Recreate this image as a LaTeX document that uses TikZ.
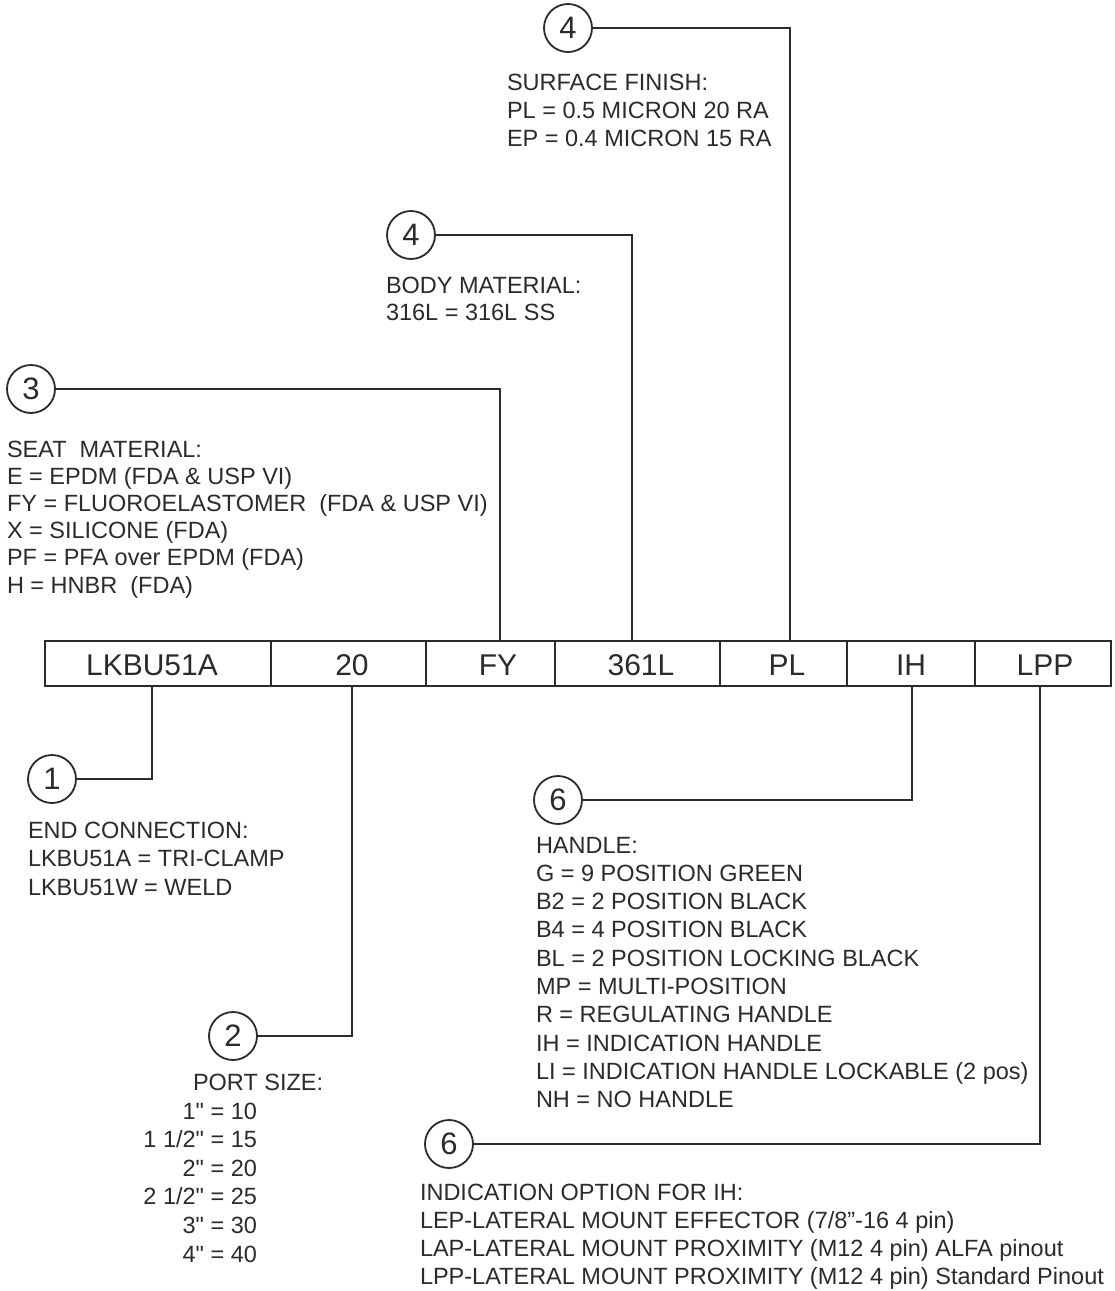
\documentclass[tikz,border=0pt]{standalone}
\usepackage{fontspec}
\setmainfont{Liberation Sans}[Ligatures=TeXOff]
\definecolor{ink}{HTML}{2B2B2B}
\begin{document}
\begin{tikzpicture}[x=1pt,y=-1pt,
  txt/.style={font=\fontsize{23.5}{28}\selectfont, text=ink, inner sep=0pt, outer sep=0pt},
  num/.style={circle, draw=ink, line width=1.8pt, minimum size=48pt, inner sep=0pt, font=\fontsize{31}{31}\selectfont, text=ink},
  cell/.style={draw=ink, line width=1.4pt, minimum height=45pt, inner sep=0pt, outer sep=0pt, anchor=north west},
  lab/.style={font=\fontsize{30}{30}\selectfont, text=ink, anchor=base, inner sep=0pt},
  conn/.style={draw=ink, line width=1.3pt}]
\fill[white] (0,0) rectangle (1115,1291);
\useasboundingbox (0,0) rectangle (1115,1291);

% code box
\node[cell, minimum width=226pt] (b1) at (45,641) {};
\node[cell, minimum width=155pt] (b2) at (271,641) {};
\node[cell, minimum width=129pt] (b3) at (426,641) {};
\node[cell, minimum width=165pt] (b4) at (555,641) {};
\node[cell, minimum width=127pt] (b5) at (720,641) {};
\node[cell, minimum width=128pt] (b6) at (847,641) {};
\node[cell, minimum width=136pt] (b7) at (975,641) {};
\node[lab] (l1) at (152,675) {LKBU51A};
\node[lab] (l2) at (352,675) {20};
\node[lab] (l3) at (498,675) {FY};
\node[lab] (l4) at (641,675) {361L};
\node[lab] (l5) at (787,675) {PL};
\node[lab] (l6) at (911,675) {IH};
\node[lab] (l7) at (1045,675) {LPP};

% connector end points on the box
\coordinate (t3) at (500,641);
\coordinate (t4) at (632,641);
\coordinate (t5) at (790,641);
\coordinate (d1) at (152,686);
\coordinate (d2) at (352,686);
\coordinate (d6) at (912,686);
\coordinate (d7) at (1040,686);

% callout circles
\node[num] (c4a) at (568,28) {4};
\node[num] (c4b) at (411,235) {4};
\node[num] (c3) at (31,389) {3};
\node[num] (c1) at (52,779) {1};
\node[num] (c2) at (233,1036) {2};
\node[num] (c6a) at (558,800) {6};
\node[num] (c6b) at (449,1144) {6};

% connectors
\draw[conn] (c4a.east) -| (t5);
\draw[conn] (c4b.east) -| (t4);
\draw[conn] (c3.east) -| (t3);
\draw[conn] (c1.east) -| (d1);
\draw[conn] (c2.east) -| (d2);
\draw[conn] (c6a.east) -| (d6);
\draw[conn] (c6b.east) -| (d7);

% surface finish
\foreach \t [count=\i from 0] in {{SURFACE FINISH:},{PL = 0.5 MICRON 20 RA},{EP = 0.4 MICRON 15 RA}}
  \node[txt, anchor=base west] (sf\i) at (507,90+28*\i) {\t};

% body material
\foreach \t [count=\i from 0] in {{BODY MATERIAL:},{316L = 316L SS}}
  \node[txt, anchor=base west] (bm\i) at (386,293+27*\i) {\t};

% seat material
\foreach \t [count=\i from 0] in {{SEAT\ \ MATERIAL:},{E = EPDM (FDA \& USP VI)},{FY = FLUOROELASTOMER\ \ (FDA \& USP VI)},{X = SILICONE (FDA)},{PF = PFA over EPDM (FDA)},{H = HNBR\ \ (FDA)}}
  \node[txt, anchor=base west] (sm\i) at (7,457+27.2*\i) {\t};

% end connection
\foreach \t [count=\i from 0] in {{END CONNECTION:},{LKBU51A = TRI-CLAMP},{LKBU51W = WELD}}
  \node[txt, anchor=base west] (ec\i) at (28,838+28.5*\i) {\t};

% port size
\node[txt, anchor=base west] (ps) at (193,1090) {PORT SIZE:};
\foreach \t [count=\i from 0] in {{1" = 10},{1 1/2" = 15},{2" = 20},{2 1/2" = 25},{3" = 30},{4" = 40}}
  \node[txt, anchor=base east] (pv\i) at (257,1119+28.6*\i) {\t};

% handle
\foreach \t [count=\i from 0] in {{HANDLE:},{G = 9 POSITION GREEN},{B2 = 2 POSITION BLACK},{B4 = 4 POSITION BLACK},{BL = 2 POSITION LOCKING BLACK},{MP = MULTI-POSITION},{R = REGULATING HANDLE},{IH = INDICATION HANDLE},{LI = INDICATION HANDLE LOCKABLE (2 pos)},{NH = NO HANDLE}}
  \node[txt, anchor=base west] (hd\i) at (536,853+28.3*\i) {\t};

% indication option
\foreach \t [count=\i from 0] in {{INDICATION OPTION FOR IH:},{LEP-LATERAL MOUNT EFFECTOR (7/8”-16 4 pin)},{LAP-LATERAL MOUNT PROXIMITY (M12 4 pin) ALFA pinout},{LPP-LATERAL MOUNT PROXIMITY (M12 4 pin) Standard Pinout}}
  \node[txt, anchor=base west] (io\i) at (420,1200+28*\i) {\t};
\end{tikzpicture}
\end{document}
